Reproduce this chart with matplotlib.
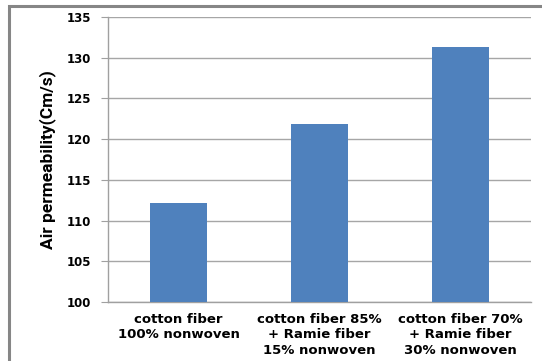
import matplotlib.pyplot as plt
from matplotlib.patches import Rectangle

categories = ['cotton fiber\n100% nonwoven',
              'cotton fiber 85%\n+ Ramie fiber\n15% nonwoven',
              'cotton fiber 70%\n+ Ramie fiber\n30% nonwoven']
permeability = [112.2, 121.8, 131.3]
yticks = [100, 105, 110, 115, 120, 125, 130, 135]

W, H = 542, 361
fig = plt.figure(figsize=(W / 100, H / 100), dpi=100)

# outer chart frame (cropped on right/bottom)
fig.patches.append(Rectangle((9 / W, -0.1), 1.1, 1.1 - 6 / H, transform=fig.transFigure,
                             fill=False, edgecolor='#868686', linewidth=2.2))

ax = fig.add_axes([108 / W, 1 - 302 / H, (531 - 108) / W, (302 - 17) / H])
x = range(len(categories))
ax.bar(x, permeability, width=0.4, color='#4F81BD', zorder=3)

ax.set_ylim(100, 135)
ax.set_xlim(-0.5, 2.5)
ax.set_yticks(yticks)
ax.set_yticklabels([str(v) for v in yticks], fontsize=8.5, fontweight='bold',
                   family='DejaVu Sans')
ax.set_xticks(list(x))
ax.set_xticklabels(categories, fontsize=9.5, fontweight='bold', family='DejaVu Sans',
                   linespacing=1.22)
ax.tick_params(axis='y', length=5, color='#A0A0A0', pad=7)
ax.tick_params(axis='x', length=0, pad=8)
ax.yaxis.grid(True, color='#A6A6A6', linewidth=1.0, zorder=0)

for s in ['top', 'right']:
    ax.spines[s].set_visible(False)
for s in ['left', 'bottom']:
    ax.spines[s].set_color('#A0A0A0')
    ax.spines[s].set_linewidth(1.0)

ax.set_ylabel('Air permeability(Cm/s)', fontsize=12.5, fontweight='bold',
              family=['Roboto', 'DejaVu Sans'], labelpad=8)

fig.savefig('out.png', dpi=100)
